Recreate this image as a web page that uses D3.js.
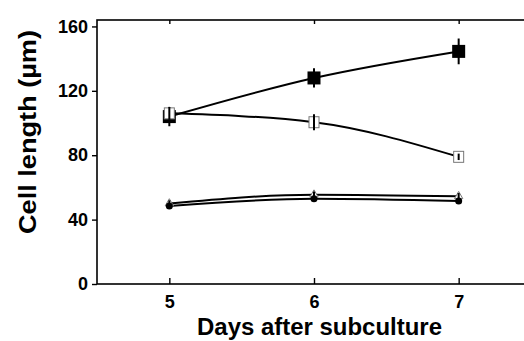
<!DOCTYPE html>
<html><head><meta charset="utf-8">
<script src="https://cdn.jsdelivr.net/npm/d3@7"></script>
<style>body{margin:0;background:#fff}svg{display:block}</style>
</head><body>
<svg id="c" width="524" height="341"></svg>
<script>
const days = [5, 6, 7];
const filledSquare = [104, 128, 144.5];
const filledSquareErr = [6, 6, 8];
const openSquare = [106, 100.5, 79];
const openSquareErr = [4, 5, 2];
const openTriangle = [50, 55.5, 54.5];
const openTriangleErr = [2, 2, 2];
const filledCircle = [48.5, 53, 51.5];
const filledCircleErr = [1.5, 1.5, 1.5];
const xTicks = [5, 6, 7];
const yTicks = [0, 40, 80, 120, 160];

const svg = d3.select("#c");
const x = d3.scaleLinear().domain([4.5, 7.5]).range([97, 531]);
const y = d3.scaleLinear().domain([0, 164]).range([284, 20]);
const font = "'Liberation Sans', Arial, sans-serif";

// frame
svg.append("rect").attr("x", x(4.5)).attr("y", y(164)).attr("width", x(7.5) - x(4.5)).attr("height", y(0) - y(164))
  .attr("fill", "none").attr("stroke", "#000").attr("stroke-width", 1.6);

const yAxis = svg.append("g").attr("transform", `translate(${x(4.5)},0)`)
  .call(d3.axisLeft(y).tickValues(yTicks).tickSize(5).tickPadding(4));
const xAxis = svg.append("g").attr("transform", `translate(0,${y(0)})`)
  .call(d3.axisBottom(x).tickValues(xTicks).tickSize(-6).tickPadding(11).tickFormat(d3.format("d")));
const xTop = svg.append("g").attr("transform", `translate(0,${y(164)})`)
  .call(d3.axisTop(x).tickValues(xTicks).tickSize(-4).tickFormat(""));
[yAxis, xAxis, xTop].forEach(g => {
  g.select(".domain").remove();
  g.selectAll("line").attr("stroke", "#000").attr("stroke-width", 1.4);
  g.selectAll("text").attr("font-family", font).attr("font-weight", "bold").attr("font-size", 18).attr("fill", "#000");
});

const line = d3.line().x((d, i) => x(days[i])).y(d => y(d)).curve(d3.curveMonotoneX);
const series = [
  {v: filledSquare, e: filledSquareErr, type: "fsq"},
  {v: openSquare, e: openSquareErr, type: "osq"},
  {v: openTriangle, e: openTriangleErr, type: "otri"},
  {v: filledCircle, e: filledCircleErr, type: "fcir"}
];
series.forEach(s => {
  svg.append("path").attr("d", line(s.v)).attr("fill", "none").attr("stroke", "#000").attr("stroke-width", 2);
});
series.forEach(s => {
  const g = svg.append("g");
  s.v.forEach((v, i) => {
    const cx = x(days[i]), cy = y(v);
    if (s.type === "fsq") {
      g.append("rect").attr("x", cx - 6.5).attr("y", cy - 6.5).attr("width", 13).attr("height", 13).attr("fill", "#000");
    } else if (s.type === "osq") {
      g.append("rect").attr("x", cx - 5).attr("y", cy - 5.5).attr("width", 10).attr("height", 11).attr("fill", "#fff").attr("stroke", "#777").attr("stroke-width", 1);
    } else if (s.type === "otri") {
      g.append("path").attr("d", d3.symbol(d3.symbolTriangle, 30)()).attr("transform", `translate(${cx},${cy})`).attr("fill", "#fff").attr("stroke", "#777").attr("stroke-width", 1);
    } else {
      g.append("circle").attr("cx", cx).attr("cy", cy).attr("r", 3.5).attr("fill", "#000");
    }
    g.append("line").attr("x1", cx).attr("x2", cx).attr("y1", y(v - s.e[i])).attr("y2", y(v + s.e[i])).attr("stroke", "#000").attr("stroke-width", 2);
  });
});

svg.append("text").attr("x", 319.5).attr("y", 335).attr("text-anchor", "middle")
  .attr("font-family", font).attr("font-weight", "bold").attr("font-size", 23)
  .attr("textLength", 245).attr("lengthAdjust", "spacingAndGlyphs").text("Days after subculture");
svg.append("text").attr("transform", "translate(36,132) rotate(-90)").attr("text-anchor", "middle")
  .attr("font-family", font).attr("font-weight", "bold").attr("font-size", 23)
  .attr("textLength", 204).attr("lengthAdjust", "spacingAndGlyphs").text("Cell length (µm)");
</script>
</body></html>
